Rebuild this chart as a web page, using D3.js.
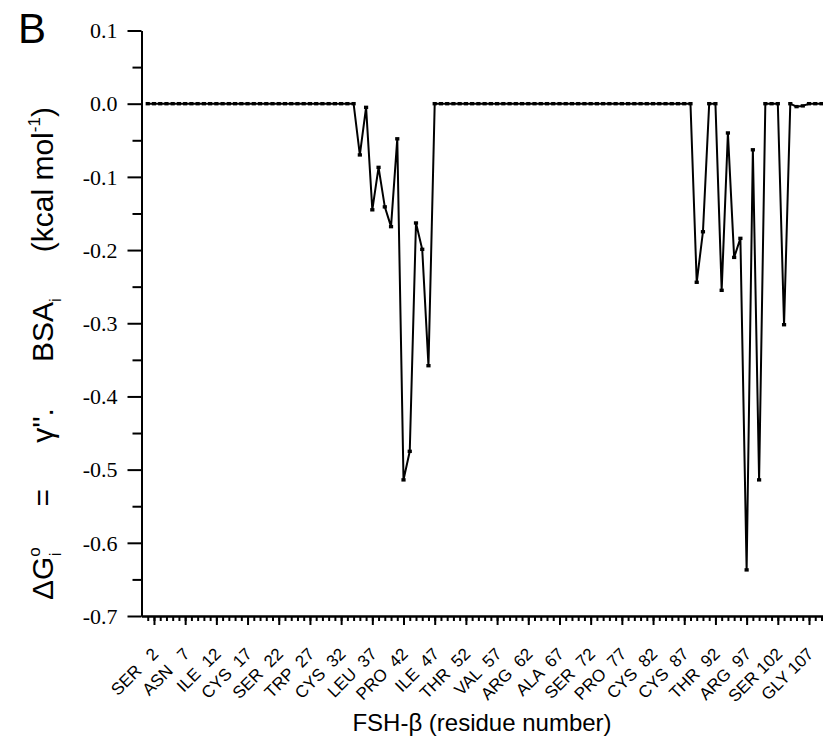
<!DOCTYPE html>
<html>
<head>
<meta charset="utf-8">
<script src="https://cdn.jsdelivr.net/npm/d3@7"></script>
<style>
  body { margin: 0; background: #fff; }
  svg { display: block; }
</style>
</head>
<body>
<script>
const w = 823;
const h = 749;

// residue numbers 1..111 of FSH-beta, energy per residue (kcal/mol)
const energy = [
  0, 0, 0, 0, 0, 0, 0, 0, 0, 0,
  0, 0, 0, 0, 0, 0, 0, 0, 0, 0,
  0, 0, 0, 0, 0, 0, 0, 0, 0, 0,
  0, 0, 0, 0, -0.070, -0.005, -0.145, -0.087, -0.141, -0.168,
  -0.048, -0.514, -0.475, -0.163, -0.199, -0.358, 0, 0, 0, 0,
  0, 0, 0, 0, 0, 0, 0, 0, 0, 0,
  0, 0, 0, 0, 0, 0, 0, 0, 0, 0,
  0, 0, 0, 0, 0, 0, 0, 0, 0, 0,
  0, 0, 0, 0, 0, 0, 0, 0, -0.244, -0.175,
  0, 0, -0.255, -0.040, -0.210, -0.184, -0.637, -0.063, -0.514, 0,
  0, 0, -0.302, 0, -0.004, -0.003, 0, 0, 0, 0,
  0
];
const residueNumbers = energy.map((d, i) => i + 1);

const labelResidues = [2, 7, 12, 17, 22, 27, 32, 37, 42, 47, 52, 57, 62, 67, 72, 77, 82, 87, 92, 97, 102, 107];
const labelNames = ["SER", "ASN", "ILE", "CYS", "SER", "TRP", "CYS", "LEU", "PRO", "ILE", "THR",
  "VAL", "ARG", "ALA", "SER", "PRO", "CYS", "CYS", "THR", "ARG", "SER", "GLY"];

const yMajor = [0.1, 0.0, -0.1, -0.2, -0.3, -0.4, -0.5, -0.6, -0.7];
const yMinor = [0.05, -0.05, -0.15, -0.25, -0.35, -0.45, -0.55, -0.65];

const svg = d3.select("body").append("svg").attr("width", w).attr("height", h);

const xScale = d3.scaleLinear().domain([0, 112]).range([141.5, 840.2]);
const yScale = d3.scaleLinear().domain([-0.7, 0.1]).range([616, 30.5]);

const sans = "'Liberation Sans', Arial, sans-serif";
const serif = "'Liberation Serif', 'Times New Roman', serif";

// axes
const xMinorAxis = d3.axisBottom(xScale).tickValues(residueNumbers).tickSize(5).tickSizeOuter(0).tickFormat("");
const xMajorAxis = d3.axisBottom(xScale).tickValues(labelResidues).tickSize(9).tickSizeOuter(0)
  .tickFormat((d, i) => labelNames[i] + " " + String(d).padStart(3, " "));

const yMinorAxis = d3.axisLeft(yScale).tickValues(yMinor).tickSize(9).tickSizeOuter(0).tickFormat("");
const yMajorAxis = d3.axisLeft(yScale).tickValues(yMajor).tickSize(14).tickSizeOuter(0)
  .tickFormat(d => d.toFixed(1));

const xg = svg.append("g").attr("transform", "translate(0," + yScale(-0.7) + ")");
xg.append("g").call(xMinorAxis);
const xMajorG = xg.append("g").call(xMajorAxis);
xMajorG.selectAll("text")
  .attr("font-family", sans)
  .attr("font-size", 17)
  .attr("fill", "#000")
  .style("white-space", "pre")
  .attr("text-anchor", "end")
  .attr("dy", 0)
  .attr("y", 0)
  .attr("transform", "translate(5,39) rotate(-45)");

const yg = svg.append("g").attr("transform", "translate(" + xScale(0) + ",0)");
yg.append("g").call(yMinorAxis);
const yMajorG = yg.append("g").call(yMajorAxis);
yMajorG.selectAll("text")
  .attr("font-family", serif)
  .attr("font-size", 22)
  .attr("fill", "#000")
  .attr("x", -24)
  .attr("dy", "0.33em");

svg.selectAll(".domain, .tick line")
  .attr("stroke", "#000")
  .attr("stroke-width", 2);

// data line
const line = d3.line()
  .x((d, i) => xScale(residueNumbers[i]))
  .y(d => yScale(d));

svg.append("path")
  .datum(energy)
  .attr("fill", "none")
  .attr("stroke", "#000")
  .attr("stroke-width", 2)
  .attr("d", line);

const mw = 4.2, mh = 3.4;
svg.append("g")
  .selectAll("rect")
  .data(energy)
  .join("rect")
  .attr("x", (d, i) => xScale(residueNumbers[i]) - mw / 2)
  .attr("y", d => yScale(d) - mh / 2)
  .attr("width", mw)
  .attr("height", mh)
  .attr("fill", "#000");

// titles
svg.append("text")
  .attr("x", 18)
  .attr("y", 43)
  .attr("font-family", sans)
  .attr("font-size", 42)
  .text("B");

svg.append("text")
  .attr("x", 482)
  .attr("y", 731)
  .attr("text-anchor", "middle")
  .attr("font-family", sans)
  .attr("font-size", 24)
  .text("FSH-\u03B2 (residue number)");

const gap = 46;
const yTitle = svg.append("text")
  .attr("transform", "translate(53,600) rotate(-90)")
  .attr("text-anchor", "start")
  .attr("font-family", sans)
  .attr("font-size", 30);
yTitle.append("tspan").text("\u0394G");
yTitle.append("tspan").attr("font-size", 17).attr("dy", -13).text("o");
yTitle.append("tspan").attr("font-size", 17).attr("dx", -9).attr("dy", 21).text("i");
yTitle.append("tspan").attr("dx", gap).attr("dy", -8).text("=");
yTitle.append("tspan").attr("dx", gap).text("\u03B3''.");
yTitle.append("tspan").attr("dx", gap).text("BSA");
yTitle.append("tspan").attr("font-size", 17).attr("dy", 8).text("i");
yTitle.append("tspan").attr("dx", gap).attr("dy", -8).text("(kcal mol");
yTitle.append("tspan").attr("font-size", 17).attr("dy", -13).text("-1");
yTitle.append("tspan").attr("dy", 13).text(")");
</script>
</body>
</html>
